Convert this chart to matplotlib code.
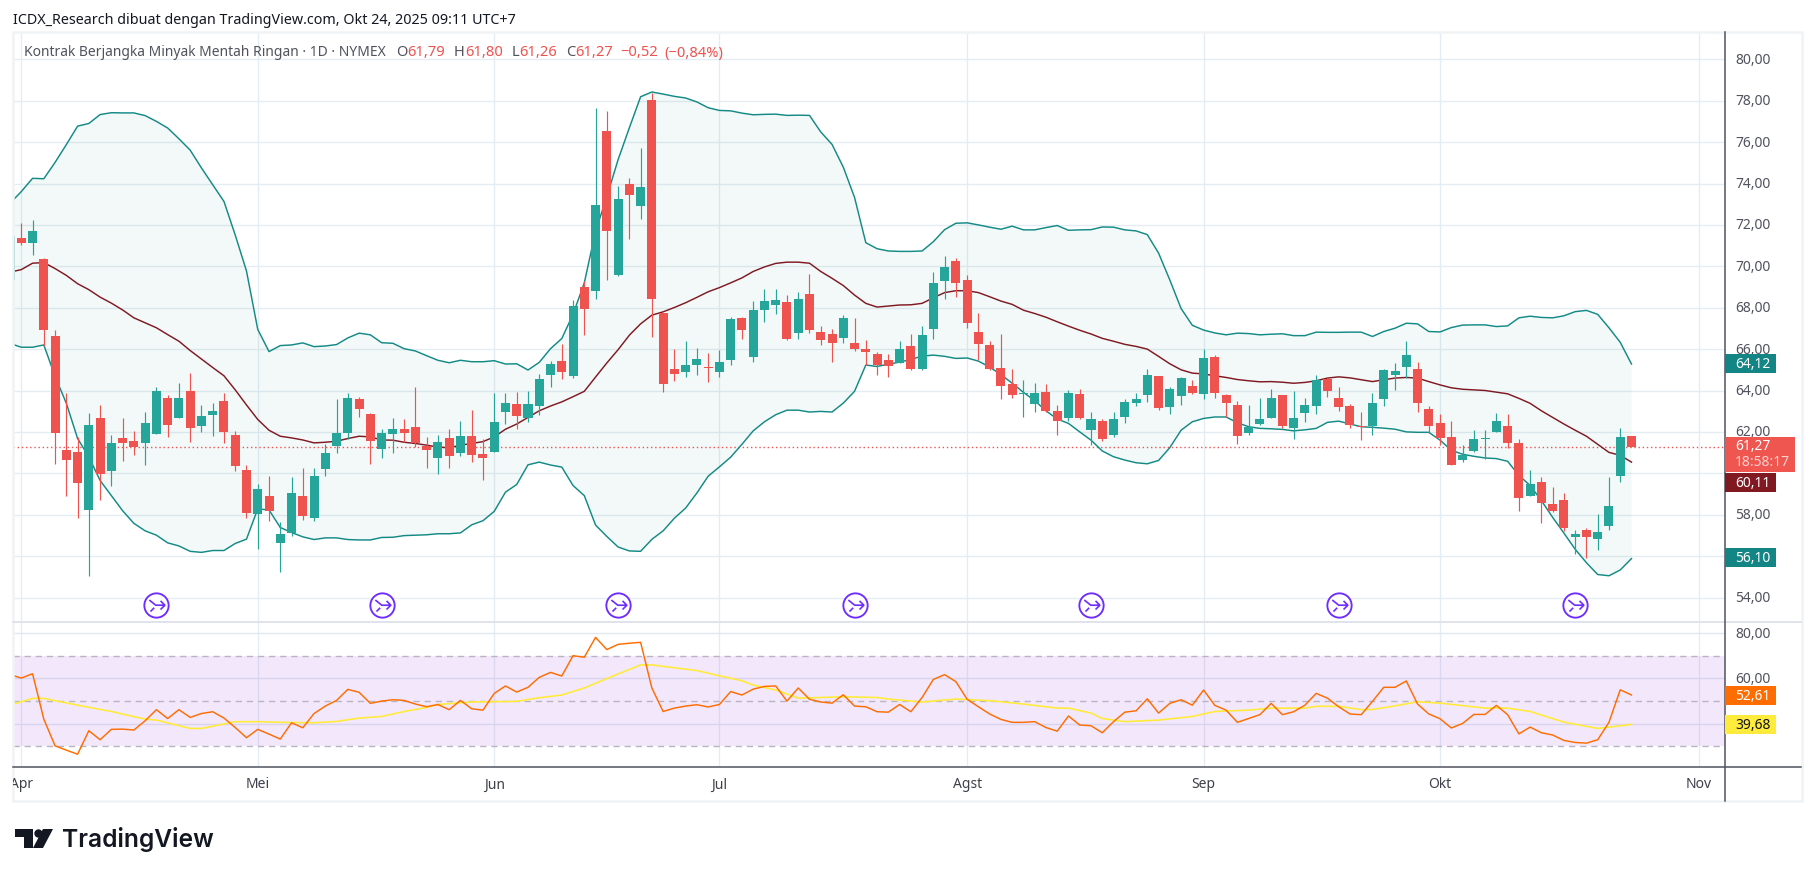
import numpy as np
import matplotlib
matplotlib.use("Agg")
import matplotlib.pyplot as plt
from matplotlib.patches import Rectangle, Polygon
from matplotlib.path import Path

W, H = 1814, 878

# candles, first one is the clipped bar left of Apr 1 (index -1)
opens = [69.32, 71.36, 71.12, 70.34, 66.65, 61.11, 61.01, 58.24, 62.67, 60.09, 61.70, 61.55, 61.45, 61.89, 63.64,
         62.67, 63.98, 62.28, 62.81, 63.50, 61.84, 60.14, 58.05, 58.92, 56.64, 57.12, 58.92, 57.85, 60.19, 61.31,
         61.94, 63.59, 62.86, 61.16, 61.89, 62.13, 62.23, 61.31, 60.72, 61.70, 60.97, 61.79, 60.92, 61.01, 62.96,
         63.35, 62.67, 63.25, 64.76, 65.44, 64.71, 68.98, 68.83, 76.56, 69.56, 73.98, 72.91, 78.02,
         67.74, 65.06, 64.87, 65.21, 65.11, 64.87, 65.45, 67.49, 65.60, 67.88, 68.13, 68.27, 66.77, 68.66, 66.81,
         66.72, 66.52, 66.28, 65.99, 65.74, 65.45, 65.35, 66.13, 65.06, 66.96, 69.29, 70.27, 69.34, 66.81, 66.18,
         65.11, 64.33, 63.82, 63.36, 63.95, 63.02, 62.68, 63.85, 62.10, 62.53, 61.85, 62.73, 63.41, 63.80, 64.72,
         63.22, 63.75, 64.24, 63.85, 65.60,
         63.79, 63.30, 61.94, 62.38, 62.67, 63.79, 62.18, 62.91, 63.25, 64.56, 63.64, 63.25, 62.28, 62.28, 63.59,
         64.76, 65.15, 65.05, 63.11, 62.42, 61.75, 60.63, 61.06, 61.67, 61.99, 62.28, 61.45, 58.92, 59.56, 58.53,
         58.73, 56.93, 57.27, 56.83, 57.47, 59.85, 61.79]
highs = [71.46, 72.10, 72.24, 70.39, 66.90, 63.88, 61.73, 62.89, 63.30, 61.84, 62.67, 62.04, 62.96, 64.18, 63.79,
         64.37, 64.86, 63.30, 63.40, 63.88, 62.04, 60.38, 59.46, 59.85, 57.66, 59.80, 60.24, 60.24, 61.40, 63.59,
         63.88, 63.69, 62.91, 62.13, 62.67, 62.62, 64.18, 61.74, 61.84, 62.13, 62.52, 63.06, 61.65, 63.88, 63.88,
         63.93, 63.98, 64.81, 65.44, 66.27, 68.36, 69.27, 77.63, 77.49, 73.89, 74.27, 75.73, 78.39,
         67.74, 65.99, 66.38, 66.04, 65.79, 65.94, 67.54, 67.54, 68.32, 68.90, 68.90, 68.61, 68.76, 69.63, 67.11,
         66.96, 67.64, 67.49, 66.42, 65.84, 65.74, 66.38, 66.72, 67.11, 69.73, 70.51, 70.41, 69.59, 67.74, 66.38,
         66.72, 65.06, 64.53, 64.38, 64.29, 63.31, 64.04, 64.09, 62.97, 62.63, 62.97, 63.60, 63.90, 65.06, 64.72,
         64.19, 64.67, 64.53, 65.99, 65.70,
         63.83, 63.49, 63.30, 63.64, 64.08, 63.79, 63.98, 63.64, 64.76, 64.61, 64.18, 63.35, 62.96, 63.88, 65.05,
         65.34, 66.41, 65.39, 63.25, 62.86, 62.52, 61.35, 62.08, 62.08, 62.91, 62.86, 61.65, 60.14, 59.80, 59.36,
         59.07, 57.27, 57.37, 58.05, 59.80, 62.18, 61.80]
lows = [69.32, 71.02, 70.53, 66.17, 60.45, 58.92, 57.82, 55.03, 58.73, 59.41, 60.58, 60.87, 60.38, 61.89, 61.74,
        62.67, 61.50, 61.99, 61.79, 61.45, 60.09, 57.85, 56.35, 57.71, 55.23, 56.98, 57.76, 57.71, 59.85, 60.97,
        61.65, 62.72, 60.43, 60.72, 60.97, 61.50, 61.26, 60.24, 59.99, 60.24, 60.82, 60.53, 59.70, 61.01, 62.38,
        62.13, 62.47, 62.81, 64.18, 64.56, 64.61, 66.70, 68.44, 69.32, 69.51, 71.31, 72.28, 66.59,
        63.95, 64.48, 64.63, 64.77, 64.43, 64.63, 65.21, 66.47, 65.36, 67.30, 67.69, 66.42, 66.47, 66.77, 66.18,
        65.40, 66.28, 65.89, 65.21, 64.77, 64.67, 65.31, 64.97, 65.01, 66.47, 68.42, 68.52, 67.01, 65.45, 64.97,
        63.61, 63.65, 62.73, 62.97, 62.97, 61.85, 62.53, 62.63, 61.37, 61.56, 61.76, 62.44, 63.26, 63.46, 63.07,
        62.87, 63.31, 63.85, 63.60, 63.65,
        62.72, 61.40, 61.84, 62.33, 62.67, 62.18, 61.65, 62.47, 62.86, 63.69, 63.01, 62.18, 61.60, 61.84, 63.25,
        64.03, 64.61, 62.96, 61.94, 61.35, 60.38, 60.53, 61.01, 60.67, 61.99, 61.21, 58.19, 58.92, 57.61, 58.15,
        57.22, 56.10, 55.91, 56.30, 57.27, 59.60, 61.26]
closes = [71.46, 71.12, 71.70, 66.91, 61.95, 60.63, 59.51, 62.33, 59.99, 61.45, 61.45, 61.26, 62.42, 63.98, 62.33,
          63.64, 62.18, 62.77, 63.01, 61.99, 60.33, 58.10, 59.22, 58.19, 57.08, 59.07, 57.95, 59.85, 60.97, 61.94,
          63.64, 63.11, 61.55, 61.94, 62.13, 61.94, 61.45, 61.11, 61.50, 60.82, 61.79, 60.87, 60.72, 62.47, 63.40,
          62.77, 63.35, 64.56, 65.29, 64.90, 68.10, 67.96, 72.97, 71.70, 73.26, 73.45, 73.83, 68.42,
          64.29, 64.82, 65.21, 65.50, 65.08, 65.40, 67.45, 66.91, 67.88, 68.32, 68.37, 66.47, 68.42, 66.91, 66.42,
          66.28, 67.49, 65.99, 65.84, 65.21, 65.16, 65.99, 65.06, 66.67, 69.20, 69.97, 69.20, 67.25, 66.23, 65.06,
          64.24, 63.80, 63.85, 63.90, 63.02, 62.53, 63.90, 62.68, 62.63, 61.66, 62.63, 63.46, 63.60, 64.77, 63.17,
          64.09, 64.58, 63.90, 65.55, 63.90,
          63.40, 61.79, 62.23, 62.62, 63.64, 62.28, 62.67, 63.30, 64.52, 63.98, 63.20, 62.33, 62.23, 63.40, 65.00,
          64.95, 65.73, 63.40, 62.28, 61.70, 60.38, 60.87, 61.65, 61.70, 62.52, 61.45, 58.83, 59.46, 58.58, 58.19,
          57.37, 57.08, 56.93, 57.17, 58.44, 61.74, 61.27]

bb_upper = [73.05, 73.61, 74.25, 74.23, 75.02, 75.88, 76.77, 76.90, 77.33, 77.42, 77.41, 77.41, 77.28, 77.00, 76.68,
            76.16, 75.61, 74.75, 73.94, 73.13, 71.51, 69.77, 66.95, 65.88, 66.17, 66.20, 66.30, 66.12, 66.15, 66.22,
            66.54, 66.77, 66.69, 66.31, 66.28, 66.02, 65.91, 65.68, 65.46, 65.34, 65.46, 65.39, 65.39, 65.44, 65.28,
            65.29, 64.99, 65.36, 66.02, 66.51, 67.68, 69.20, 71.70, 73.36, 75.15, 76.69, 78.19, 78.42,
            78.32, 78.21, 78.13, 77.94, 77.66, 77.53, 77.51, 77.40, 77.32, 77.34, 77.35, 77.29, 77.30, 77.29, 76.49,
            75.89, 74.79, 73.33, 71.14, 70.85, 70.74, 70.72, 70.72, 70.74, 71.19, 71.77, 72.08, 72.10, 72.00, 71.89,
            71.79, 71.94, 71.76, 71.76, 71.87, 71.97, 71.74, 71.76, 71.77, 71.90, 71.89, 71.76, 71.71, 71.53, 70.64,
            69.34, 67.96, 67.15, 66.92, 66.78,
            66.69, 66.77, 66.75, 66.69, 66.72, 66.74, 66.65, 66.65, 66.82, 66.81, 66.81, 66.82, 66.82, 66.61, 66.85,
            67.01, 67.25, 67.22, 66.85, 66.83, 67.04, 67.16, 67.17, 67.17, 67.09, 67.12, 67.51, 67.59, 67.53, 67.51,
            67.61, 67.81, 67.87, 67.68, 67.03, 66.33, 65.28]
bb_mid = [69.72, 69.84, 70.15, 70.18, 69.89, 69.56, 69.16, 68.87, 68.51, 68.22, 67.89, 67.51, 67.27, 67.03, 66.70,
          66.38, 65.93, 65.52, 65.11, 64.71, 64.03, 63.30, 62.60, 62.08, 61.79, 61.71, 61.61, 61.47, 61.50, 61.55,
          61.68, 61.79, 61.76, 61.61, 61.60, 61.50, 61.44, 61.36, 61.27, 61.23, 61.36, 61.44, 61.53, 61.76, 62.13,
          62.38, 62.70, 63.02, 63.25, 63.45, 63.70, 63.96, 64.65, 65.33, 65.97, 66.67, 67.22, 67.64,
          67.80, 68.01, 68.24, 68.50, 68.77, 68.97, 69.20, 69.44, 69.75, 69.97, 70.14, 70.20, 70.20, 70.15, 69.75,
          69.42, 69.07, 68.61, 68.21, 68.03, 68.08, 68.13, 68.14, 68.21, 68.48, 68.73, 68.82, 68.82, 68.73, 68.53,
          68.32, 68.16, 67.88, 67.72, 67.54, 67.32, 67.11, 66.91, 66.73, 66.52, 66.38, 66.23, 66.13, 66.00, 65.65,
          65.29, 65.00, 64.84, 64.80, 64.71,
          64.63, 64.53, 64.47, 64.42, 64.43, 64.40, 64.35, 64.39, 64.47, 64.60, 64.66, 64.61, 64.52, 64.43, 64.52,
          64.60, 64.63, 64.60, 64.43, 64.27, 64.13, 64.06, 64.03, 64.00, 63.92, 63.84, 63.62, 63.38, 63.02, 62.70,
          62.38, 62.08, 61.79, 61.40, 61.01, 60.87, 60.54]
bb_lower = [66.27, 66.09, 66.09, 66.20, 64.68, 63.38, 61.68, 60.79, 59.65, 58.92, 58.19, 57.58, 57.22, 57.01, 56.64,
            56.49, 56.23, 56.18, 56.27, 56.27, 56.61, 56.82, 58.28, 58.23, 57.38, 57.14, 56.93, 56.80, 56.88, 56.88,
            56.80, 56.78, 56.78, 56.90, 56.91, 56.99, 57.01, 57.03, 57.08, 57.08, 57.12, 57.51, 57.71, 58.16, 59.09,
            59.46, 60.41, 60.54, 60.40, 60.30, 59.41, 58.92, 57.50, 56.95, 56.44, 56.25, 56.23, 56.81,
            57.22, 57.83, 58.32, 59.05, 59.86, 60.31, 60.78, 61.40, 62.05, 62.49, 62.83, 63.05, 63.05, 62.96, 62.99,
            62.96, 63.39, 63.96, 65.23, 65.16, 65.27, 65.37, 65.50, 65.66, 65.71, 65.65, 65.55, 65.57, 65.42, 65.13,
            64.77, 64.35, 63.91, 63.51, 63.02, 62.62, 62.41, 62.00, 61.60, 61.08, 60.80, 60.64, 60.51, 60.46, 60.62,
            61.24, 62.08, 62.49, 62.65, 62.72,
            62.72, 62.44, 62.25, 62.17, 62.15, 62.12, 62.05, 62.10, 62.17, 62.46, 62.52, 62.38, 62.25, 62.22, 62.18,
            62.13, 62.00, 61.98, 61.98, 61.60, 61.11, 60.92, 60.82, 60.74, 60.71, 60.58, 59.90, 59.41, 58.68, 57.87,
            57.11, 56.33, 55.68, 55.11, 55.05, 55.33, 55.88]

rsi = [61.7, 60.2, 62.1, 42.0, 30.2, 28.3, 26.5, 36.9, 32.9, 37.5, 37.6, 37.2, 41.3, 46.2, 42.3, 46.2, 42.8, 44.5,
       45.3, 42.5, 38.3, 33.8, 37.5, 35.4, 33.2, 40.4, 38.2, 44.5, 47.8, 50.3, 55.2, 53.9, 49.0, 50.0, 50.6, 50.3,
       48.7, 47.5, 48.5, 46.2, 50.3, 46.6, 46.0, 53.4, 56.7, 54.0, 56.1, 60.5, 62.7, 61.1, 70.1, 69.4, 78.2, 72.8,
       75.1, 75.6, 76.0, 55.8, 45.4, 46.9, 47.8, 48.4, 47.4, 48.5, 54.2, 52.7, 55.3, 56.5, 56.7, 50.0, 55.8, 50.8,
       49.6, 49.1, 52.8, 47.8, 47.5, 45.3, 45.1, 48.5, 45.3, 51.6, 59.6, 61.7, 58.6, 50.8, 47.5, 44.3, 41.9, 40.6,
       40.6, 40.9, 38.3, 36.7, 43.4, 39.4, 39.1, 36.0, 40.9, 45.1, 45.7, 51.0, 44.7, 49.0, 50.6, 48.2, 54.9, 48.1,
       46.0, 40.6, 42.3, 44.0, 49.0, 44.0, 45.3, 48.2, 53.4, 51.3, 47.5, 44.3, 44.0, 49.9, 56.1, 56.1, 58.9, 48.7,
       44.3, 42.2, 38.1, 40.1, 44.1, 44.1, 48.1, 44.0, 35.5, 38.5, 36.0, 35.0, 32.6, 31.7, 31.4, 32.9, 40.6, 55.0,
       52.7]
# yellow RSI average, read at its bends only
rsi_ma_idx = [-1, 1, 2, 5, 8, 11, 12, 15, 16, 19, 21, 23, 26, 28, 30, 32, 34, 36, 37, 40, 44, 46, 48, 50, 53, 55, 56,
              60, 62, 64, 65, 67, 69, 73, 76, 77, 80, 83, 86, 89, 92, 93, 95, 96, 98, 101, 104, 106, 109, 111, 114,
              115, 117, 119, 120, 122, 124, 126, 130, 132, 134, 137, 140, 143]
rsi_ma = [48.2, 51.2, 51.2, 48.2, 45.4, 42.0, 41.6, 37.9, 37.9, 40.9, 40.9, 40.6, 40.4, 41.0, 42.5, 43.2, 45.4, 47.2,
          48.5, 49.6, 49.9, 51.5, 52.7, 55.8, 62.0, 66.0, 66.0, 63.5, 61.2, 59.0, 57.1, 54.9, 51.3, 51.9, 51.6, 50.9,
          49.6, 50.9, 50.2, 48.7, 46.9, 46.9, 44.7, 42.3, 40.9, 41.6, 43.2, 45.4, 46.0, 46.9, 46.9, 47.7, 47.7, 46.2,
          46.3, 47.9, 49.7, 49.1, 46.9, 46.9, 45.4, 40.7, 37.9, 39.68]

month_idx = [0, 21, 42, 62, 84, 105, 126, 149]
month_labels = ["Apr", "Mei", "Jun", "Jul", "Agst", "Sep", "Okt", "Nov"]
price_ticks = [54, 56, 58, 60, 62, 64, 66, 68, 70, 72, 74, 76, 78, 80]
price_tick_labels = [54, 58, 62, 64, 66, 68, 70, 72, 74, 76, 78, 80]  # 56 and 60 sit under the value tags
rsi_ticks = [40, 60, 80]
rsi_levels = [30, 50, 70]
icon_idx = [12, 32, 53, 74, 95, 117, 138]
last_price = 61.27

UP, DOWN = "#26a69a", "#ef5350"
BAND = "#138a85"
GRID = "#e4edf3"
TXT = "#50535e"

plt.rcParams["font.family"] = ["Noto Sans", "DejaVu Sans"]
fig = plt.figure(figsize=(W / 100, H / 100), dpi=100, facecolor="white")


def box(left, top, right, bottom):
    return [left / W, 1 - bottom / H, (right - left) / W, (bottom - top) / H]


def fx(x):
    return x / W


def fy(y):
    return 1 - y / H


# pixel position of bar i is 21.3 + 11.26 * i, so the two panes share this range
xlim = ((13 - 21.3) / 11.26, (1724.7 - 21.3) / 11.26)

ax = fig.add_axes(box(13, 33.5, 1724.7, 623.3))
ax2 = fig.add_axes(box(13, 623.3, 1724.7, 768.3))
ax.set_ylim(80 - (623.3 - 60.3) / 20.7, 80 + (60.3 - 33.5) / 20.7)
ax2.set_ylim(80 - (768.3 - 634.3) / 2.26, 80 + (634.3 - 623.3) / 2.26)
for a in (ax, ax2):
    a.set_xlim(*xlim)
    a.set_xticks([])
    a.set_yticks([])
    for s in a.spines.values():
        s.set_visible(False)
    a.vlines(month_idx, *a.get_ylim(), color=GRID, lw=1.0, zorder=1)

x = np.arange(-1, len(opens) - 1)
o, h, l, c = map(np.array, (opens, highs, lows, closes))

ax.hlines(price_ticks, *xlim, color=GRID, lw=1.0, zorder=1)
ax.fill(np.r_[x, x[::-1]], np.r_[bb_upper, bb_lower[::-1]], color=BAND, alpha=0.05, lw=0, zorder=2)
ax.hlines(last_price, *xlim, color=DOWN, lw=1.0, linestyles=(0, (1, 2)), zorder=3)
ax.plot(x, bb_upper, color=BAND, lw=1.05, zorder=4)
ax.plot(x, bb_lower, color=BAND, lw=1.05, zorder=4)
ax.plot(x, bb_mid, color="#801922", lw=1.05, zorder=4)

colors = np.where(c >= o, UP, DOWN)
ax.vlines(x, l, h, color=colors, lw=0.85, zorder=5)
ax.bar(x, np.maximum(np.abs(c - o), 0.05), bottom=np.minimum(o, c), width=0.8, color=colors, lw=0, zorder=6)

# purple "merge" marks along the bottom of the price pane
icon_y = 80 - (606 - 60.3) / 20.7
merge = Path([(-0.5, 0.38), (-0.05, 0.02), (0.58, 0.02), (0.28, 0.32), (0.58, 0.02), (0.28, -0.28),
              (-0.42, -0.42), (-0.16, -0.16)],
             [Path.MOVETO, Path.LINETO, Path.LINETO, Path.MOVETO, Path.LINETO, Path.LINETO, Path.MOVETO, Path.LINETO])
ax.plot(icon_idx, [icon_y] * len(icon_idx), ls="", marker="o", ms=17.5, mfc="white", mec="#6e2cff", mew=1.35, zorder=7)
ax.plot(icon_idx, [icon_y] * len(icon_idx), ls="", marker=merge, ms=12, mfc="none", mec="#6e2cff", mew=1.2, zorder=8)

# RSI pane
ax2.hlines(rsi_ticks, *xlim, color="#e1e8f1", lw=1.0, zorder=1)
ax2.axhspan(30, 70, facecolor=(0.55, 0.10, 0.90, 0.10), lw=0, zorder=2)
ax2.hlines(rsi_levels, *xlim, color="#b9b5bf", lw=1.0, linestyles=(0, (4.5, 3.5)), zorder=3)
ax2.plot(rsi_ma_idx, rsi_ma, color="#ffeb3b", lw=1.2, zorder=4)
ax2.plot(x, rsi, color="#ff6d00", lw=1.05, zorder=5)

# frame and scale lines, all in figure pixels
fig.add_artist(Rectangle((fx(12.5), fy(802)), (1801.5 - 12.5) / W, (802 - 33) / H, fill=False, ec="#f0f3f5", lw=1.8,
                         transform=fig.transFigure))
fig.add_artist(plt.Line2D([fx(13), fx(1801)], [fy(623.3)] * 2, color="#e0e3eb", lw=1.4, transform=fig.transFigure))
fig.add_artist(plt.Line2D([fx(13), fx(1801)], [fy(768.3)] * 2, color="#50535e", lw=1.1, transform=fig.transFigure))
fig.add_artist(plt.Line2D([fx(1724.7)] * 2, [fy(33), fy(802)], color="#50535e", lw=1.1, transform=fig.transFigure))

for t in price_tick_labels:
    fig.text(fx(1735), fy(60.3 + (80 - t) * 20.7), f"{t},00", color=TXT, fontsize=10, va="center", ha="left")
for t in (60, 80):
    fig.text(fx(1735), fy(634.3 + (80 - t) * 2.26), f"{t},00", color=TXT, fontsize=10, va="center", ha="left")

# month names, Apr is cut by the frame
for m, name in zip(month_idx, month_labels):
    lab = fig.text(fx(21.3 + 11.26 * m), fy(785), name, color="#3d4049", fontsize=10, fontweight="medium",
                   va="center", ha="center")
    if name == "Apr":
        lab.set_clip_path(Rectangle((13, 0), 200, H, transform=None))


def tag(top, bottom, right, col, text, tcol="white"):
    fig.add_artist(Rectangle((fx(1725), fy(bottom)), (right - 1725) / W, (bottom - top) / H, fc=col, ec="none",
                             transform=fig.transFigure, zorder=5))
    fig.text(fx(1735), fy((top + bottom) / 2), text, color=tcol, fontsize=10, fontweight="semibold",
             va="center", ha="left", zorder=6)


tag(355, 373.5, 1776, "#128584", "64,12")
tag(549, 568, 1776, "#128584", "56,10")
tag(474, 493, 1776, "#801922", "60,11")
tag(687, 706, 1776, "#ff6d00", "52,61")
tag(716, 735, 1776, "#ffeb3b", "39,68", "#131722")
fig.add_artist(Rectangle((fx(1725), fy(473)), (1795 - 1725) / W, (473 - 438) / H, fc="#f05650", ec="none",
                         transform=fig.transFigure, zorder=7))
fig.text(fx(1735), fy(446.5), "61,27", color="white", fontsize=10, fontweight="semibold", va="center", zorder=8)
fig.text(fx(1735), fy(463), "18:58:17", color="#fcd2d0", fontsize=10, fontweight="semibold", va="center", zorder=8)

# header lines
fig.text(fx(13), fy(20), "ICDX_Research dibuat dengan TradingView.com, Okt 24, 2025 09:11 UTC+7", color="#131722",
         fontsize=10.3, va="center")

legend_parts = [("Kontrak Berjangka Minyak Mentah Ringan · 1D · NYMEX", TXT, 10), ("O", TXT, 0), ("61,79", DOWN, 9),
                ("H", TXT, 0), ("61,80", DOWN, 9), ("L", TXT, 0), ("61,26", DOWN, 9), ("C", TXT, 0),
                ("61,27", DOWN, 7), ("−0,52", DOWN, 7), ("(−0,84%)", DOWN, 0)]
rend = fig.canvas.get_renderer()
px = 24
for i, (text, col, gap) in enumerate(legend_parts):
    t = fig.text(fx(px), fy(53), text, color=col, fontsize=10 if i == 0 else 10.6, va="center", ha="left")
    px = t.get_window_extent(rend).x1 + gap

# TradingView logo
logo_col = "#131722"
fig.add_artist(Polygon([(fx(a), fy(b)) for a, b in
                        [(15, 830), (33, 830), (33, 849), (24, 849), (24, 838), (15, 838)]],
                       fc=logo_col, ec="none", transform=fig.transFigure))
fig.add_artist(Polygon([(fx(a), fy(b)) for a, b in [(43, 830), (53, 830), (43, 849), (33, 849)]],
                       fc=logo_col, ec="none", transform=fig.transFigure))
fig.add_artist(plt.Line2D([fx(38.2)], [fy(834)], marker="o", ms=6, color=logo_col, mec="none",
                          transform=fig.transFigure))
fig.text(fx(62), fy(840), "TradingView", color=logo_col, fontsize=17.7, fontweight="semibold",
         family=["Inter", "DejaVu Sans"], va="center", ha="left")

fig.savefig("out.png", dpi=100, facecolor="white")
